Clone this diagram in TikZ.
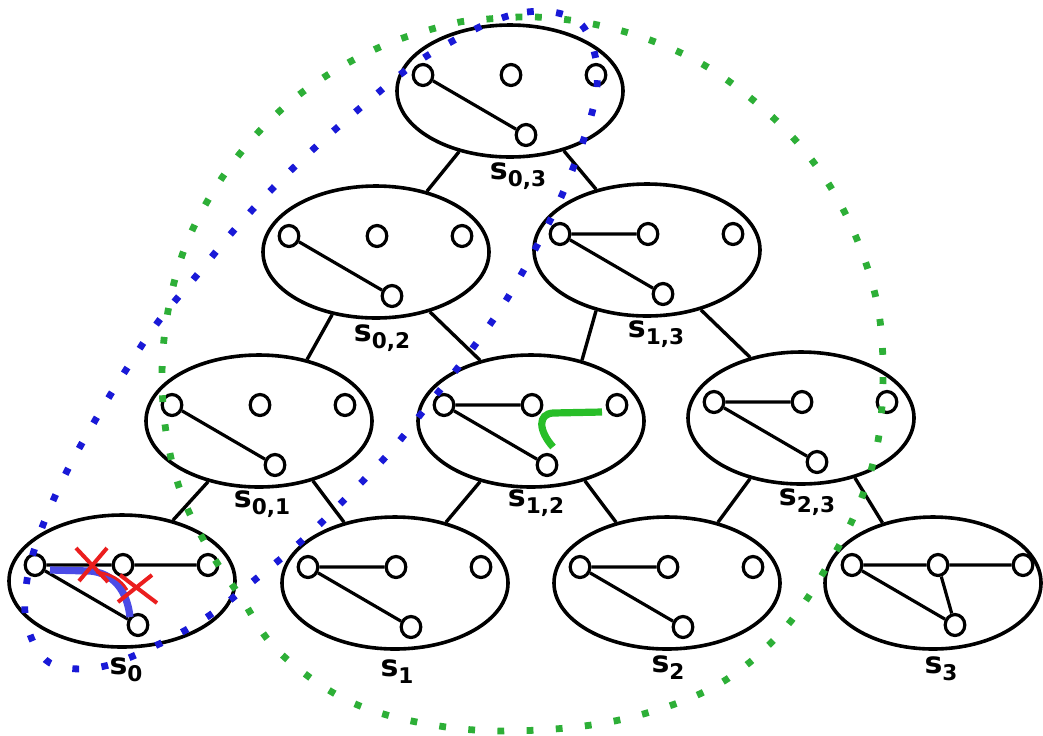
\documentclass[tikz,border=0pt]{standalone}
\usepackage{fontspec}
\setmainfont{DejaVu Sans}
\usetikzlibrary{shapes.geometric,calc}

\definecolor{dotblue}{RGB}{25,25,215}
\definecolor{dotgreen}{RGB}{45,175,55}
\definecolor{pathblue}{RGB}{75,75,230}
\definecolor{pathgreen}{RGB}{40,190,40}
\definecolor{cutred}{RGB}{235,30,30}

% state label: bold s with a lowered index
\newcommand\slab[1]{{\fontsize{15pt}{15pt}\selectfont s}\raisebox{-3.5pt}{\fontsize{10.8pt}{11pt}\selectfont #1}}

% four vertices of a state graph, placed relative to the state's centre
\newcommand\vertices[1]{%
  \node[vtx] (#1L) at ($(#1)+(-87,-16)$) {};
  \node[vtx] (#1M) at ($(#1)+(1,-16)$) {};
  \node[vtx] (#1R) at ($(#1)+(86,-16)$) {};
  \node[vtx] (#1B) at ($(#1)+(16,44)$) {};
}

\begin{document}
\begin{tikzpicture}[x=0.5pt,y=-0.5pt,
  state/.style={ellipse,draw,line width=1.8pt,minimum width=113pt,minimum height=66pt,inner sep=0pt},
  vtx/.style={ellipse,draw,fill=white,line width=1.6pt,minimum width=9.8pt,minimum height=10.5pt,inner sep=0pt},
  gedge/.style={line width=1.6pt},
  tedge/.style={line width=1.7pt},
  slbl/.style={font=\bfseries,inner sep=0pt},
  dots/.style={line width=3.4pt,dash pattern=on 3.4pt off 11.2pt},
  cut/.style={cutred,line width=2pt}]
\useasboundingbox (0,0) rectangle (1043,735);

% lattice of states
\node[state] (S03) at (510,91) {};
\node[state] (S02) at (376,252) {};
\node[state] (S13) at (647,250) {};
\node[state] (S01) at (259,421) {};
\node[state] (S12) at (531,421) {};
\node[state] (S23) at (801,418) {};
\node[state] (S0) at (122,581) {};
\node[state] (S1) at (395,583) {};
\node[state] (S2) at (667,583) {};
\node[state,minimum width=108pt] (S3) at (933,583) {};

% lattice edges
\draw[tedge] (S03.-130) -- (S02.50);
\draw[tedge] (S03.-48) -- (S13.130);
\draw[tedge] (S02.-125) -- (S01.52);
\draw[tedge] (S02.-48) -- (S12.130);
\draw[tedge] (S13.-130) -- (S12.50);
\draw[tedge] (S13.-48) -- (S23.130);
\draw[tedge] (S01.-130) -- (S0.50);
\draw[tedge] (S01.-48) -- (S1.130);
\draw[tedge] (S12.-130) -- (S1.50);
\draw[tedge] (S12.-48) -- (S2.130);
\draw[tedge] (S23.-130) -- (S2.50);
\draw[tedge] (S23.-48) -- (S3.130);

% labels
\node[slbl] (l03) at (518,176) {\slab{0,3}};
\node[slbl] (l02) at (382,338) {\slab{0,2}};
\node[slbl] (l13) at (656,334) {\slab{1,3}};
\node[slbl] (l01) at (262,504) {\slab{0,1}};
\node[slbl] (l12) at (536,503) {\slab{1,2}};
\node[slbl] (l23) at (807,502) {\slab{2,3}};
\node[slbl] (l0) at (126,670) {\slab{0}};
\node[slbl] (l1) at (397,672) {\slab{1}};
\node[slbl] (l2) at (668,668) {\slab{2}};
\node[slbl] (l3) at (941,669) {\slab{3}};

% graphs inside the states
\vertices{S03}
\vertices{S02}
\vertices{S13}
\vertices{S01}
\vertices{S12}
\vertices{S23}
\vertices{S0}
\vertices{S1}
\vertices{S2}
\node[vtx] (S3L) at ($(S3)+(-81,-18)$) {};
\node[vtx] (S3M) at ($(S3)+(5,-18)$) {};
\node[vtx] (S3R) at ($(S3)+(90,-18)$) {};
\node[vtx] (S3B) at ($(S3)+(22,42)$) {};

\draw[gedge] (S03L) -- (S03B);
\draw[gedge] (S02L) -- (S02B);
\draw[gedge] (S13L) -- (S13M) (S13L) -- (S13B);
\draw[gedge] (S01L) -- (S01B);
\draw[gedge] (S12L) -- (S12M) (S12L) -- (S12B);
\draw[gedge] (S23L) -- (S23M) (S23L) -- (S23B);
\draw[gedge] (S0L) -- (S0M) (S0M) -- (S0R) (S0L) -- (S0B);
\draw[gedge] (S1L) -- (S1M) (S1L) -- (S1B);
\draw[gedge] (S2L) -- (S2M) (S2L) -- (S2B);
\draw[gedge] (S3L) -- (S3M) (S3M) -- (S3R) (S3L) -- (S3B) (S3M) -- (S3B);

% highlighted route in s_0, cut twice
\coordinate (p0a) at (50,570);
\coordinate (p0b) at (90,571);
\coordinate (p0c) at (130,617);
\draw[pathblue,line width=3.6pt] (p0a) -- (p0b) .. controls (113,573) and (127,590) .. (p0c);
\draw[cutred,line width=1.4pt] (96,572) .. controls (112,574) and (121,580) .. (127,590);
\draw[cut] (76,548) -- (108,582) (107,548) -- (79,581);
\draw[cut] (120,575) -- (157,603) (152,575) -- (118,602);

% added route in s_{1,2}
\coordinate (g0a) at (602,412);
\coordinate (g0b) at (553,413);
\coordinate (g0c) at (553,447);
\draw[pathgreen,line width=3.6pt] (g0a) -- (g0b) .. controls (538,414) and (538,430) .. (g0c);

% dotted regions
\draw[dotgreen,dots] plot[smooth cycle,tension=0.6] coordinates {
  (477,20) (535,17) (593,24) (650,40) (704,65) (753,100) (797,142) (833,191)
  (860,247) (878,308) (883,372) (878,441) (860,502) (832,558) (785,628)
  (719,684) (632,717) (539,730) (446,727) (353,703) (279,652) (240,596)
  (211,553) (183,498) (167,438) (162,374) (168,311) (184,250) (211,195)
  (247,145) (290,102) (339,68) (392,42) (447,25)};
\draw[dotblue,dots] plot[smooth cycle,tension=0.6] coordinates {
  (496,20) (527,12) (558,13) (582,25) (595,55) (597,87) (590,120) (578,155)
  (562,195) (540,240) (505,302) (466,357) (428,405) (390,452) (348,496)
  (305,538) (257,578) (210,615) (157,645) (100,667) (50,663) (27,625)
  (27,580) (40,533) (64,477) (93,424) (124,373) (158,322) (197,275)
  (235,229) (276,185) (320,143) (366,103) (413,65) (460,37)};
\end{tikzpicture}
\end{document}
